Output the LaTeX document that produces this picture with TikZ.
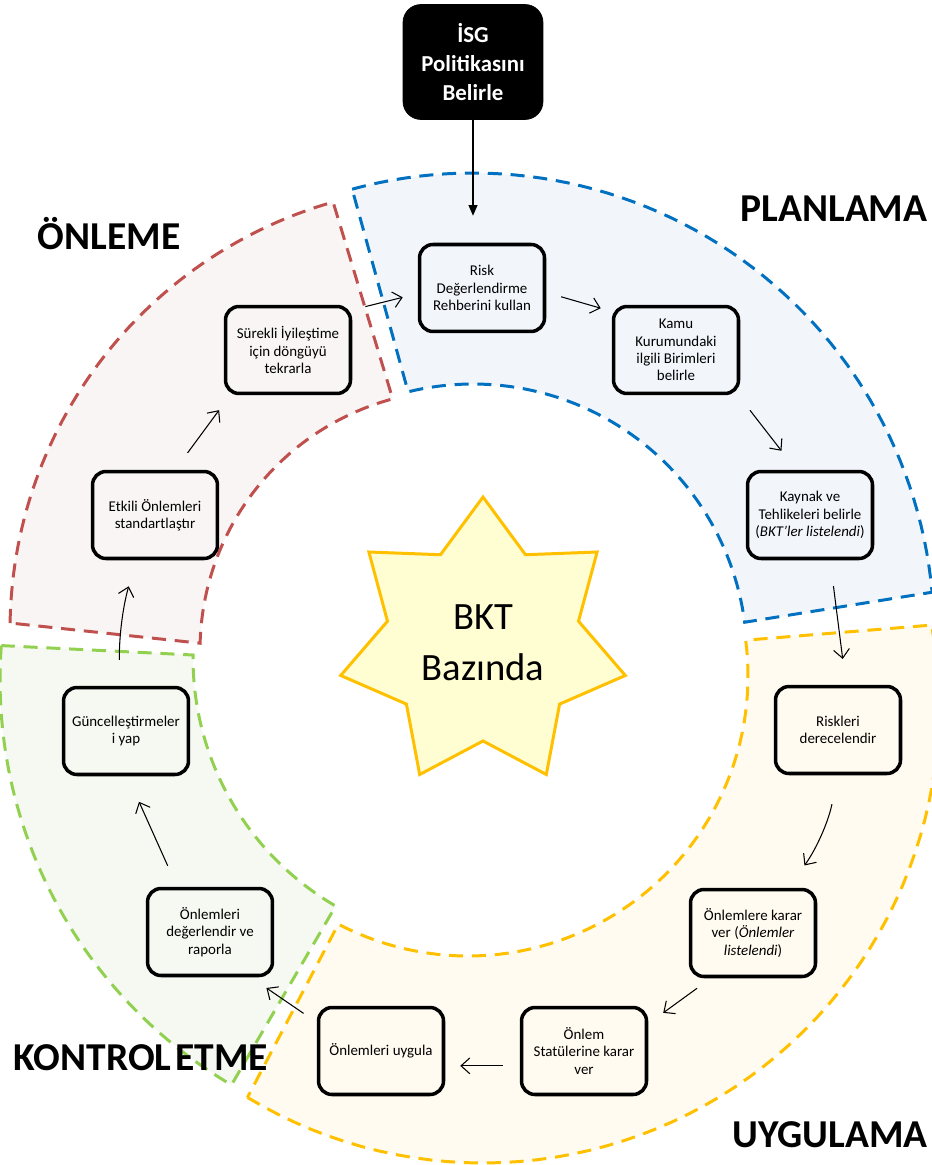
\documentclass[tikz,border=0pt]{standalone}
\usepackage{fontspec}
\setmainfont{Carlito}
\usetikzlibrary{shapes.geometric,arrows.meta}

\definecolor{planblue}{HTML}{0070C0}
\definecolor{onred}{HTML}{C0504D}
\definecolor{kontgreen}{HTML}{92D050}
\definecolor{uygyellow}{HTML}{FFC000}
\definecolor{planfill}{HTML}{F2F6FB}
\definecolor{onfill}{HTML}{FAF5F5}
\definecolor{kontfill}{HTML}{F5F9F1}
\definecolor{uygfill}{HTML}{FFFBF0}
\definecolor{starfill}{HTML}{FFFDD2}

\begin{document}
\begin{tikzpicture}[x=0.02cm, y=-0.02cm,
	ringpart/.style={line width=1.7pt, dash pattern=on 8pt off 5pt, samples=60},
	stepbox/.style={draw, line width=2pt, rounded corners=0.27cm, minimum width=2.5cm, minimum height=1.74cm, align=center, inner sep=1pt, font=\fontsize{8.5}{9.8}\selectfont},
	phaselabel/.style={anchor=base, font=\fontsize{22.5}{28}\selectfont\bfseries},
	cyc/.style={-{Straight Barb[length=5pt,width=9pt]}, line width=0.6pt}]
	\useasboundingbox (0,0) rectangle (932,1165);

	% ring parts
	\draw[ringpart, draw=planblue, fill=planfill]
		plot[domain=-105.2:-5.2] ({473+461*cos(\x)}, {634+461*sin(\x)})
		-- plot[domain=-7.5:-103.7] ({473+274*cos(\x)}, {658+274*sin(\x)}) -- cycle;
	\draw[ringpart, draw=onred, fill=onfill]
		plot[domain=-179.1:-105.9] ({455+445*cos(\x)}, {630+445*sin(\x)})
		-- plot[domain=-105:-178.5] ({460+260*cos(\x)}, {650+260*sin(\x)}) -- cycle;
	\draw[ringpart, draw=kontgreen, fill=kontfill]
		plot[domain=184.2:120.5] ({470+470*cos(\x)}, {680+470*sin(\x)})
		-- plot[domain=120.2:180.6] ({480+287*cos(\x)}, {658+287*sin(\x)}) -- cycle;
	\draw[ringpart, draw=uygyellow, fill=uygfill]
		plot[domain=121.1:-10.35] ({483+456*cos(\x)}, {707+456*sin(\x)})
		-- plot[domain=-7.35:117.6] ({468+280*cos(\x)}, {676+280*sin(\x)}) -- cycle;

	% phases
	\node[phaselabel] (plan) at (834,222) {PLANLAMA};
	\node[phaselabel] (onl) at (109,250) {ÖNLEME};
	\node[phaselabel] (kont) at (141,1070) {KONTROL\hspace{0.1em}ETME};
	\node[phaselabel] (uyg) at (830,1147) {UYGULAMA};

	% center star
	\node[star, star points=7, star point ratio=1.49, minimum size=5.84cm, inner sep=0pt,
		draw=uygyellow, fill=starfill, line width=1.7pt, align=center,
		font=\fontsize{22}{29}\selectfont] (bkt) at (483,643) {BKT\\Bazında};

	% policy box
	\node[draw, fill=black, text=white, rounded corners=0.36cm, minimum width=2.8cm, minimum height=2.3cm,
		align=center, font=\fontsize{13}{16.5}\selectfont\bfseries] (isg) at (473,62) {İSG\\Politikasını\\Belirle};

	% steps
	\node[stepbox] (b1) at (482,288) {Risk\\Değerlendirme\\Rehberini kullan};
	\node[stepbox] (b2) at (676,350) {Kamu\\Kurumundaki\\ilgili Birimleri\\belirle};
	\node[stepbox] (b3) at (810,515) {Kaynak ve\\Tehlikeleri belirle\\(\textit{BKT'ler listelendi})};
	\node[stepbox] (b4) at (838,730) {Riskleri\\derecelendir};
	\node[stepbox] (b5) at (753,933) {Önlemlere karar\\ver (\textit{Önlemler}\\\textit{listelendi})};
	\node[stepbox] (b6) at (584,1051) {Önlem\\Statülerine karar\\ver};
	\node[stepbox] (b7) at (381,1051) {Önlemleri uygula};
	\node[stepbox] (b8) at (210,932) {Önlemleri\\değerlendir ve\\raporla};
	\node[stepbox] (b9) at (126,731) {Güncelleştirmeler\\i yap};
	\node[stepbox] (b10) at (155,515) {Etkili Önlemleri\\standartlaştır};
	\node[stepbox] (b11) at (288,350) {Sürekli İyileştime\\için döngüyü\\tekrarla};

	\draw[-{Triangle[length=6pt,width=5pt]}, line width=0.7pt, shorten >=0.54cm] (isg.south) -- (isg.south |- b1.north);

	\draw[cyc, shorten <=0.31cm, shorten >=0.23cm] (b1.-4) -- (b2.149);
	\draw[cyc, shorten <=0.38cm, shorten >=0.48cm] (b2.-36) -- (b3.107);
	\draw[cyc, shorten <=0.52cm, shorten >=0.52cm] (b3.-66) -- (b4.80);
	\draw[cyc, shorten <=0.59cm, shorten >=0.55cm] (b4.south) to[bend left=12] (b5.52);
	\draw[cyc, shorten <=0.34cm, shorten >=0.37cm] (b5.-133) -- (b6.23);
	\draw[cyc, shorten <=0.34cm, shorten >=0.30cm] (b6.-167) -- (b7.-13);
	\draw[cyc, shorten <=0.32cm, shorten >=0.38cm] (b7.156) -- (b8.-48);
	\draw[cyc, shorten <=0.46cm, shorten >=0.56cm] (b8.126) -- (b9.-88);
	\draw[cyc, shorten <=0.52cm, shorten >=0.54cm] (b9.98) to[bend left=8] (b10.-113);
	\draw[cyc, shorten <=0.42cm, shorten >=0.37cm] (b10.66) -- (b11.-142);
	\draw[cyc, shorten <=0.27cm, shorten >=0.31cm] (b11.32) -- (b1.185);
\end{tikzpicture}
\end{document}
